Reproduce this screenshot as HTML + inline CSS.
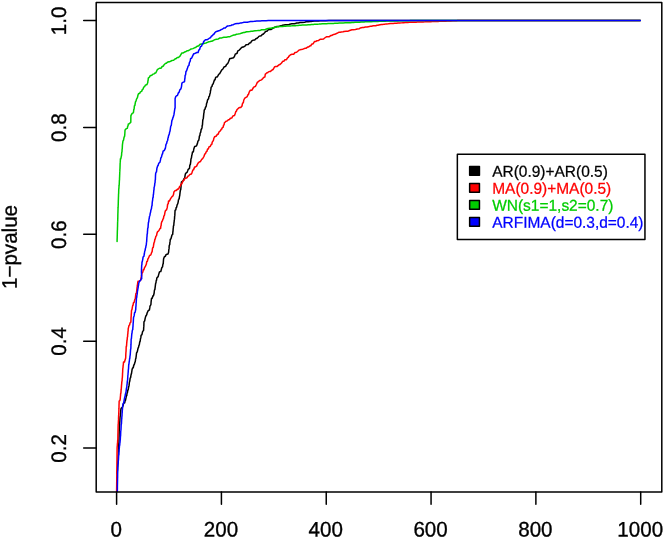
<!DOCTYPE html>
<html><head><meta charset="utf-8"><title>plot</title>
<style>
html,body{margin:0;padding:0;background:#fff;}
body{width:664px;height:538px;overflow:hidden;}
svg{display:block;will-change:transform;font-family:"Liberation Sans",sans-serif;}
</style></head><body>
<svg width="664" height="538" viewBox="0 0 664 538">
<rect x="0" y="0" width="664" height="538" fill="#ffffff"/>
<defs><clipPath id="c"><rect x="96.2" y="2.4" width="565.6" height="489.5"/></clipPath></defs>
<g fill="none" stroke-width="1.50" stroke-linejoin="round" stroke-linecap="round" clip-path="url(#c)">
<polyline stroke="#000000" points="117.20,473.70 117.30,471.17 117.40,470.58 117.54,469.27 117.60,467.47 117.70,466.60 117.80,464.35 117.88,464.23 118.00,461.23 118.14,460.25 118.20,458.12 118.29,455.49 118.40,455.00 118.47,454.49 118.52,452.00 118.60,450.66 118.64,449.00 118.68,449.00 118.76,446.00 118.84,443.09 118.88,443.00 118.96,442.16 119.00,440.00 119.03,439.49 119.07,436.87 119.09,436.87 119.13,433.73 119.16,433.56 119.20,430.60 119.25,430.60 119.38,427.88 119.49,425.44 119.55,425.15 119.60,425.15 119.73,422.43 119.85,421.41 119.90,419.70 120.12,416.47 120.20,416.47 120.36,416.14 120.50,413.23 120.62,412.94 120.80,410.00 121.11,408.36 122.00,407.60 122.37,407.60 123.20,405.20 123.51,403.53 124.40,402.80 124.67,402.79 125.20,400.37 125.48,400.32 126.00,397.93 126.35,396.06 126.80,395.50 127.01,393.22 127.40,392.70 127.84,389.90 128.00,389.90 128.16,389.90 128.60,387.10 129.01,385.69 129.20,384.08 129.39,382.26 129.80,381.05 130.18,378.02 130.40,378.02 130.67,377.37 131.00,375.00 131.43,373.82 131.80,371.50 132.15,369.15 132.60,368.00 133.25,367.75 133.80,365.00 134.21,364.86 135.00,362.00 135.23,362.00 135.63,358.77 135.84,358.77 136.27,355.53 136.55,352.87 136.90,352.30 137.27,351.75 137.70,349.87 138.10,347.97 138.50,347.43 138.98,345.17 139.30,345.00 139.72,341.83 139.90,341.80 140.10,341.48 140.50,338.60 140.79,337.94 141.10,335.40 141.95,334.70 142.30,332.95 142.64,331.44 143.50,330.50 143.56,330.50 143.70,327.50 143.80,326.64 143.90,324.50 143.96,322.06 144.10,321.50 144.68,320.93 145.10,318.67 145.81,315.83 146.10,315.83 146.70,314.72 147.10,313.00 148.24,310.64 149.10,310.00 149.38,310.00 149.80,307.70 150.00,306.07 150.50,305.40 150.92,304.46 151.10,301.80 151.52,298.44 151.70,298.20 152.28,298.14 152.90,295.75 153.45,295.75 154.10,293.30 154.42,290.24 154.70,289.70 154.85,289.58 155.30,286.10 155.64,283.27 155.90,283.27 156.27,280.43 156.50,280.43 156.86,277.80 157.10,277.60 158.14,276.66 158.65,274.60 159.44,271.94 160.20,271.60 160.79,271.59 161.40,269.20 161.77,267.80 162.60,266.80 162.70,265.39 163.00,263.97 163.22,263.60 163.40,261.13 163.57,258.95 163.80,258.30 164.39,256.76 165.40,256.30 165.96,254.72 167.00,254.30 168.00,253.97 168.60,252.30 168.80,249.73 169.05,248.65 169.19,245.85 169.50,245.00 169.77,244.45 169.90,242.10 170.06,241.65 170.30,239.20 170.88,239.11 171.50,236.80 172.03,234.78 172.70,234.40 172.88,231.64 173.00,231.35 173.20,228.30 173.30,228.30 173.39,226.50 173.63,225.50 173.77,225.47 173.97,222.70 174.12,222.01 174.30,219.90 174.50,219.15 174.60,216.67 174.79,215.65 174.90,213.43 175.07,210.20 175.20,210.20 175.79,209.79 176.20,207.40 176.58,207.40 177.20,204.60 177.72,203.86 178.20,201.80 178.43,199.97 178.80,199.35 179.23,198.36 179.40,196.90 179.74,195.51 179.93,193.60 180.32,190.45 180.47,190.30 180.72,189.76 181.00,187.00 181.11,184.82 181.20,184.50 181.32,183.64 181.40,182.00 183.24,180.58 184.10,178.60 184.73,178.04 185.00,175.90 185.47,173.75 185.90,173.20 187.00,172.45 187.70,170.75 188.22,169.29 189.50,168.30 189.80,165.40 190.15,164.70 190.32,164.70 190.80,161.10 190.96,159.05 191.40,158.05 191.82,155.14 192.00,155.00 192.46,152.02 192.90,152.00 193.35,151.79 193.80,149.00 194.65,146.52 195.60,146.30 196.56,145.83 197.40,143.60 198.00,140.95 198.30,140.85 198.70,140.44 199.20,138.10 199.36,136.33 199.70,135.55 199.88,135.55 200.20,133.00 200.61,132.59 200.95,130.85 201.15,129.48 201.70,128.70 202.05,127.42 202.17,125.47 202.44,125.09 202.63,122.23 202.86,119.78 203.10,119.00 203.33,118.42 203.57,115.87 203.89,112.73 204.03,112.73 204.18,110.57 204.50,109.60 205.14,108.97 205.40,107.50 206.06,106.49 206.30,105.40 206.59,103.42 207.10,102.40 207.44,100.42 207.90,99.40 208.52,98.96 208.90,96.65 209.46,96.23 209.90,93.90 210.31,92.66 210.50,90.60 210.77,90.29 211.10,87.30 211.95,86.51 212.35,84.85 213.19,83.86 213.60,82.40 214.50,79.70 215.05,79.70 215.64,77.34 216.50,77.00 217.30,77.00 218.80,74.10 219.53,73.88 221.10,71.20 221.63,70.05 222.90,69.00 224.10,66.80 224.70,66.80 225.78,66.18 226.50,64.60 227.77,63.49 228.65,61.55 229.80,58.50 230.80,58.50 233.44,57.85 234.40,56.50 235.36,53.93 236.10,53.70 237.11,53.27 237.80,50.90 239.03,50.35 240.30,48.95 241.61,47.45 242.80,47.00 243.64,46.89 245.25,45.80 246.06,44.83 247.70,44.60 248.24,44.51 249.50,43.10 250.56,42.86 251.30,41.60 252.29,40.49 253.70,40.10 254.73,40.03 256.10,38.60 256.63,38.60 258.15,37.25 258.85,36.37 260.20,35.90 261.20,35.81 262.50,34.20 263.18,34.20 264.80,32.50 265.52,31.51 267.25,31.00 268.10,29.82 269.70,29.50 270.84,29.50 272.70,28.30 274.62,27.25 275.70,27.10 276.88,26.54 278.53,26.43 280.33,25.84 281.37,25.77 282.34,25.34 284.20,25.10 285.04,24.75 287.00,24.67 288.96,24.48 289.80,24.23 291.82,23.80 292.60,23.80 294.24,23.71 295.43,23.40 296.69,23.07 298.27,23.00 299.97,22.60 301.10,22.60 302.04,22.60 304.70,22.15 306.06,21.82 308.30,21.70 310.22,21.45 311.35,21.40 312.51,21.14 314.40,21.10 315.87,20.97 317.20,20.97 318.70,20.95 320.00,20.83 321.83,20.79 322.80,20.70 324.58,20.69 325.85,20.65 328.90,20.60 331.09,20.55 331.95,20.55 332.97,20.52 335.00,20.50 640.30,20.50"/>
<polyline stroke="#ff0000" points="116.60,492.50 116.63,489.64 116.67,486.79 116.70,483.93 116.73,481.08 116.77,478.22 116.80,475.37 116.83,472.51 116.87,469.66 116.90,466.80 116.93,463.73 116.97,460.67 117.00,457.60 117.03,454.53 117.07,451.47 117.10,448.40 117.21,446.36 117.33,445.60 117.39,443.92 117.57,442.80 117.70,440.06 117.80,440.00 117.84,439.50 117.88,436.75 117.90,434.69 117.95,433.50 117.98,432.84 118.02,430.25 118.07,429.26 118.10,427.00 118.20,423.98 118.25,423.98 118.29,423.98 118.40,420.95 118.49,419.88 118.55,417.92 118.66,414.97 118.70,414.90 118.75,414.62 118.80,412.12 118.87,411.57 118.90,409.34 118.97,408.39 119.00,406.56 119.03,404.64 119.10,403.78 119.15,401.42 119.20,401.00 119.77,400.86 120.20,399.20 120.42,396.18 120.50,396.18 120.63,393.65 120.80,393.15 120.89,393.13 121.10,390.12 121.23,389.44 121.40,387.10 121.58,384.46 121.68,384.08 121.75,382.64 121.95,381.05 122.05,381.05 122.22,378.02 122.32,378.02 122.50,375.00 122.53,373.58 122.60,372.70 122.66,372.25 122.70,370.40 122.83,368.39 123.00,367.60 123.15,365.47 123.30,364.80 123.52,362.00 123.60,362.00 124.46,361.99 125.60,358.30 125.66,358.30 125.77,355.30 125.90,352.42 125.95,352.30 126.06,351.18 126.12,349.30 126.18,346.88 126.30,346.30 126.52,346.22 126.73,343.07 127.03,339.83 127.17,339.83 127.32,337.53 127.60,336.60 127.71,334.06 127.87,333.77 127.95,331.74 128.13,330.93 128.21,328.79 128.40,328.10 129.01,325.34 129.60,325.10 130.03,322.96 130.80,322.10 130.85,322.10 131.00,319.08 131.06,317.13 131.20,316.05 131.27,313.90 131.40,313.02 131.46,310.88 131.60,310.00 131.92,310.00 132.30,307.70 132.75,305.40 133.00,305.40 133.51,302.59 133.90,302.40 134.13,302.40 134.80,299.40 135.29,298.86 135.55,296.35 135.94,293.44 136.30,293.30 136.57,292.37 136.75,290.30 137.07,287.30 137.20,287.30 137.32,285.24 137.60,284.30 137.71,282.55 138.00,281.30 139.66,281.06 140.80,280.00 141.07,277.60 141.25,277.60 141.53,275.35 141.70,275.20 141.90,273.44 142.45,272.50 142.82,272.25 143.20,269.80 143.85,269.80 144.75,267.05 145.21,266.79 146.30,264.30 146.75,261.65 147.35,261.30 147.97,258.72 148.40,258.30 149.57,255.43 150.05,255.30 150.85,254.87 151.70,252.30 152.11,251.83 152.33,249.87 152.56,248.11 152.97,247.43 153.26,247.43 153.60,245.00 154.02,242.59 154.40,242.10 154.89,239.20 155.20,239.20 155.83,236.35 156.10,236.20 156.54,235.56 157.00,233.20 157.49,231.83 158.80,230.75 160.09,228.30 160.60,228.30 160.84,226.07 160.95,225.90 161.08,225.90 161.30,223.50 161.88,221.39 162.35,221.10 162.94,219.03 163.40,218.70 163.88,215.80 164.15,215.65 164.49,215.04 164.90,212.60 165.32,211.02 166.10,209.90 166.56,209.90 167.30,207.20 167.65,204.15 167.90,204.15 168.32,203.39 168.50,201.10 169.35,201.10 170.60,198.70 172.03,196.56 172.70,196.30 173.49,194.59 173.90,192.10 175.21,190.60 176.05,190.60 177.64,189.10 178.20,189.10 178.57,189.10 179.60,186.55 180.30,186.13 181.00,184.00 181.77,183.86 182.50,182.10 183.25,180.50 184.00,180.20 185.05,178.20 185.85,178.20 187.14,177.64 187.70,176.20 188.54,176.12 189.85,174.40 191.31,174.06 192.00,172.60 192.89,169.97 193.50,169.85 194.60,167.10 195.00,167.10 196.61,166.11 197.40,164.40 198.28,162.80 199.80,161.70 200.38,161.70 201.90,159.00 202.46,159.00 204.00,156.30 204.78,154.03 205.43,153.87 206.12,151.90 206.87,151.43 207.61,149.09 208.30,149.00 209.10,146.77 210.10,146.60 211.44,144.23 211.90,144.20 212.21,142.13 212.90,141.20 213.48,140.22 213.90,138.20 214.57,136.74 216.05,136.20 217.48,134.27 218.20,134.20 219.08,131.82 220.20,131.00 221.24,129.26 221.70,129.10 222.33,127.57 223.20,127.20 223.48,125.39 224.10,124.75 224.44,122.61 225.00,122.30 225.69,121.51 227.23,120.90 228.40,119.73 229.47,119.50 230.37,118.27 231.70,118.10 232.97,115.87 233.50,115.70 234.51,115.51 235.30,113.30 235.97,111.15 236.50,111.15 236.89,109.82 237.70,109.00 238.94,107.81 239.85,107.50 240.74,107.50 242.00,106.00 242.46,103.71 242.90,103.00 243.34,102.73 243.80,100.00 244.81,98.13 246.80,96.90 247.14,96.83 248.00,94.50 248.46,94.50 249.20,92.10 250.20,90.36 251.03,90.30 251.78,90.30 252.87,88.50 253.68,87.13 254.70,86.70 255.40,86.42 256.50,84.25 257.42,82.13 258.30,81.80 259.58,80.38 260.50,80.20 261.39,79.91 262.70,78.60 263.99,77.16 264.90,77.00 265.27,74.26 265.40,74.20 266.89,72.80 267.63,72.80 268.39,71.87 269.87,71.40 270.48,71.40 272.10,70.00 273.03,69.52 273.90,68.20 274.46,67.00 275.70,66.40 277.15,66.40 279.30,64.60 280.02,64.59 281.53,62.97 282.68,61.34 283.77,61.33 284.92,59.78 286.00,59.70 286.47,59.70 287.50,57.90 288.29,57.45 289.00,56.10 290.55,54.75 292.00,54.30 293.68,54.18 295.00,52.50 296.63,52.20 298.05,51.00 298.85,50.14 301.10,49.50 302.71,49.23 303.50,48.90 305.20,48.30 305.90,48.30 307.54,47.05 308.35,47.05 310.00,45.80 310.80,45.80 311.57,44.21 313.20,43.70 314.43,41.60 315.60,41.60 316.68,40.83 318.60,40.40 320.12,39.36 321.60,39.20 323.55,38.99 324.65,38.00 326.40,36.82 327.70,36.80 328.97,36.80 330.70,35.60 331.62,35.49 333.70,34.40 334.76,34.32 336.95,33.30 339.11,32.20 340.20,32.20 341.25,31.94 343.10,31.75 344.03,31.44 346.00,31.30 348.19,31.18 349.65,30.55 351.93,29.83 353.30,29.80 355.20,29.59 356.30,29.25 357.08,28.94 359.30,28.70 360.22,27.97 362.40,27.50 363.68,27.48 365.40,27.10 366.96,27.01 368.40,26.70 370.46,26.33 371.40,26.30 373.30,25.80 374.23,25.77 375.71,25.74 377.07,25.23 377.90,25.23 379.90,24.70 381.64,24.40 382.70,24.40 384.49,24.13 385.50,24.10 386.72,23.90 388.30,23.80 390.66,23.57 391.53,23.57 393.12,23.56 394.77,23.33 396.58,23.30 398.00,23.10 399.61,23.07 401.23,22.87 403.13,22.65 404.47,22.63 405.91,22.41 407.70,22.40 409.80,22.37 410.82,22.30 411.87,22.23 413.95,22.20 416.27,22.15 417.07,22.10 418.50,22.08 420.20,22.00 421.04,21.92 423.15,21.90 424.90,21.87 426.10,21.80 427.42,21.78 429.05,21.70 431.03,21.67 432.00,21.60 432.97,21.60 435.02,21.50 436.73,21.46 438.05,21.40 439.52,21.31 441.08,21.30 442.04,21.30 444.10,21.20 445.64,21.17 447.30,21.07 449.66,20.93 450.50,20.93 452.85,20.80 453.70,20.80 455.21,20.72 456.47,20.70 457.70,20.61 459.23,20.60 460.68,20.58 462.00,20.50 640.30,20.50"/>
<polyline stroke="#00cd00" points="117.05,241.50 117.08,241.50 117.14,238.62 117.19,238.08 117.22,235.75 117.26,235.75 117.31,232.88 117.34,231.25 117.40,230.00 117.43,230.00 117.49,227.21 117.54,226.64 117.57,224.43 117.63,221.64 117.66,221.64 117.71,221.13 117.74,218.86 117.78,218.77 117.83,216.07 117.88,213.29 117.91,213.29 117.97,210.50 118.00,210.50 118.04,208.19 118.10,207.71 118.15,207.17 118.20,204.93 118.26,204.02 118.30,202.14 118.33,200.43 118.40,199.36 118.45,197.13 118.50,196.57 118.53,194.68 118.60,193.79 118.65,193.45 118.70,191.00 118.76,189.04 118.90,188.25 119.05,185.70 119.10,185.50 119.19,184.96 119.30,182.75 119.40,180.30 119.50,180.00 119.53,177.92 119.60,177.22 119.64,175.46 119.70,174.45 119.77,171.68 119.80,171.68 119.86,171.23 119.90,168.90 119.96,168.90 120.07,165.53 120.16,162.43 120.23,162.17 120.32,161.34 120.40,158.80 120.80,158.80 121.60,155.00 121.68,152.93 121.85,152.15 121.98,152.05 122.10,149.30 122.27,148.43 122.35,146.45 122.43,144.88 122.60,143.60 122.98,140.94 123.55,140.15 124.12,136.85 124.50,136.70 124.74,135.04 124.85,133.20 125.00,130.45 125.20,129.70 126.18,128.68 127.10,128.40 127.31,128.31 127.70,126.20 128.06,125.79 128.30,124.00 129.25,123.82 130.80,122.20 130.83,119.03 130.85,118.95 130.90,115.70 132.16,113.36 133.20,112.80 133.46,112.35 133.80,109.35 134.09,109.17 134.40,105.90 134.84,105.53 135.20,103.50 135.52,101.71 136.00,101.10 136.42,99.31 136.80,98.70 137.42,97.70 138.00,95.00 138.50,93.70 139.80,93.20 140.45,91.87 141.60,91.40 142.19,89.88 143.10,89.00 143.75,87.07 144.60,86.60 145.41,85.24 146.10,84.80 146.88,84.75 147.60,83.00 147.70,83.00 147.95,80.55 148.13,80.42 148.30,78.10 149.56,76.97 150.10,75.70 151.82,75.16 152.50,74.40 154.06,73.83 154.90,73.10 155.79,73.06 157.30,69.70 159.43,68.25 160.30,68.20 161.13,68.20 162.15,66.50 163.44,65.96 164.00,64.80 165.73,63.30 166.40,63.30 167.36,62.28 168.80,61.80 169.85,61.65 171.20,61.00 171.82,60.43 173.60,60.20 175.20,58.84 175.73,58.83 177.31,57.47 177.87,57.47 178.44,57.47 180.00,56.10 181.87,52.90 182.50,52.90 183.28,52.90 184.90,51.80 185.50,51.80 187.30,50.70 188.39,50.70 190.10,49.67 191.15,48.94 192.90,48.63 194.99,47.60 195.70,47.60 196.70,46.55 198.75,45.80 200.09,44.20 201.80,44.00 202.54,44.00 204.60,43.20 206.00,42.98 207.40,42.40 208.92,41.79 210.20,41.60 212.47,41.07 213.43,40.40 215.45,39.40 216.67,39.20 218.33,38.93 219.90,38.00 221.47,37.94 222.70,37.60 224.00,37.31 225.50,37.20 226.23,37.20 228.30,36.80 229.97,36.67 231.53,35.90 233.78,35.00 234.77,35.00 236.56,34.26 238.00,34.10 239.63,33.88 241.23,33.30 243.52,32.50 244.47,32.50 246.62,31.70 247.70,31.70 249.80,31.55 251.30,31.20 252.44,31.20 254.90,30.70 255.64,30.70 257.55,30.55 258.89,30.40 260.20,30.40 261.60,29.78 263.37,29.70 264.97,29.68 266.53,29.00 268.03,28.46 269.70,28.30 271.34,28.20 272.50,27.77 273.73,27.76 275.30,27.23 277.30,26.70 278.10,26.70 280.04,26.51 281.12,26.50 282.61,26.45 284.15,26.30 285.23,26.30 287.18,26.10 289.43,26.02 290.20,25.90 291.81,25.85 293.23,25.70 295.45,25.64 296.25,25.50 298.00,25.46 299.27,25.30 300.98,25.14 302.30,25.10 303.08,25.09 305.32,24.90 306.43,24.90 308.35,24.70 310.18,24.67 311.38,24.50 313.42,24.41 314.40,24.30 315.68,24.29 317.42,24.15 318.97,24.11 320.45,24.00 322.38,23.86 323.48,23.85 324.60,23.73 326.50,23.70 328.16,23.58 329.24,23.58 330.31,23.56 331.98,23.46 333.56,23.42 334.72,23.34 335.57,23.27 337.46,23.22 339.51,23.10 340.20,23.10 341.68,23.06 343.18,22.95 345.25,22.81 346.15,22.80 347.60,22.68 349.12,22.65 350.41,22.65 352.10,22.50 353.60,22.49 355.12,22.35 357.18,22.20 358.15,22.20 359.54,22.19 361.18,22.05 362.89,22.01 364.20,21.90 365.18,21.83 367.23,21.77 368.53,21.67 370.25,21.65 371.17,21.65 373.27,21.52 374.98,21.51 376.30,21.40 377.95,21.38 379.30,21.32 380.88,21.31 382.30,21.25 383.61,21.24 385.30,21.18 386.64,21.12 388.30,21.10 389.18,21.10 391.32,21.03 393.34,21.01 394.35,20.95 395.77,20.88 397.38,20.88 399.48,20.85 400.40,20.80 401.44,20.80 403.42,20.75 406.45,20.70 407.27,20.66 409.48,20.65 410.30,20.62 412.50,20.60 415.42,20.58 418.33,20.57 421.25,20.55 424.17,20.53 427.08,20.52 430.00,20.50 640.30,20.50"/>
<polyline stroke="#0000ff" points="117.30,492.50 117.32,492.44 117.36,489.64 117.38,489.64 117.41,486.79 117.43,484.73 117.47,483.93 117.51,481.16 117.52,481.08 117.56,478.22 117.58,478.22 117.60,477.70 117.63,475.37 117.67,472.99 117.69,472.51 117.72,471.95 117.74,469.66 117.76,468.16 117.80,466.80 117.98,463.73 118.05,463.73 118.23,462.95 118.30,460.67 118.45,459.99 118.55,457.60 118.69,455.08 118.80,454.53 118.87,452.54 119.05,451.47 119.14,449.22 119.30,448.40 119.45,446.04 119.60,445.60 119.69,445.55 119.90,442.80 119.99,442.80 120.20,440.00 120.27,440.00 120.42,436.75 120.59,435.53 120.65,433.50 120.76,430.85 120.88,430.25 120.98,429.66 121.10,427.00 121.20,424.53 121.32,424.27 121.49,423.32 121.55,421.55 121.66,419.19 121.78,418.83 121.83,416.80 122.00,416.10 122.09,413.27 122.20,412.87 122.29,410.56 122.40,409.63 122.48,409.02 122.60,406.40 123.02,403.97 123.40,403.20 123.64,403.18 124.20,400.00 124.79,396.80 125.00,396.80 125.39,393.93 125.60,393.57 126.04,391.86 126.20,390.33 126.43,388.30 126.80,387.10 126.91,385.16 127.10,384.08 127.29,381.53 127.40,381.05 127.61,379.97 127.70,378.02 127.90,375.00 128.00,375.00 128.07,373.05 128.20,372.35 128.33,369.74 128.40,369.70 128.55,368.50 128.60,367.05 128.74,364.40 128.80,364.40 128.92,364.24 129.20,361.57 129.31,361.53 129.60,358.73 129.80,358.36 130.00,355.90 130.18,355.31 130.40,352.30 130.57,349.56 130.80,348.70 130.86,347.96 130.93,345.47 131.02,344.15 131.07,342.23 131.16,339.00 131.20,339.00 131.43,338.47 131.62,335.98 131.83,333.61 132.05,332.95 132.17,331.42 132.47,329.92 132.73,329.58 132.90,326.90 132.97,326.90 133.13,323.70 133.29,322.28 133.37,320.50 133.52,317.75 133.60,317.30 134.09,315.98 134.27,314.87 134.58,312.70 134.93,312.43 135.11,312.43 135.60,310.00 135.69,309.97 135.83,306.87 135.98,306.33 136.07,303.73 136.23,302.54 136.30,300.60 136.50,297.72 136.73,297.37 136.91,295.24 137.17,294.13 137.48,290.90 137.60,290.90 137.84,288.89 138.07,288.10 138.33,285.65 138.53,285.30 138.74,283.29 139.00,282.50 139.85,280.65 140.35,280.65 141.22,278.80 141.70,278.80 141.65,276.19 141.60,276.00 141.53,275.19 141.50,273.20 141.47,272.99 141.40,270.40 141.46,270.15 141.60,267.57 141.72,264.73 141.80,264.73 141.89,264.73 142.00,261.90 142.23,261.90 142.80,259.10 143.07,257.20 143.60,256.30 143.88,256.30 144.40,253.50 144.71,251.27 145.03,250.67 145.36,248.59 145.67,247.83 146.02,245.58 146.30,245.00 146.46,242.27 146.53,242.27 146.63,241.84 146.77,239.53 146.89,237.19 147.00,236.80 147.13,234.06 147.23,233.97 147.38,233.46 147.47,231.13 147.53,231.13 147.70,228.30 148.04,227.61 148.20,225.10 148.40,222.60 148.70,221.90 149.03,218.97 149.20,218.70 149.46,216.52 149.90,215.47 150.26,213.06 150.60,212.23 150.79,210.55 151.30,209.00 151.45,208.67 151.73,206.17 152.03,205.61 152.17,203.33 152.34,201.56 152.60,200.50 152.82,197.80 152.95,197.80 153.14,197.42 153.30,195.10 153.48,194.28 153.65,192.40 153.83,190.29 154.00,189.70 154.12,187.28 154.40,186.47 154.63,185.37 154.80,183.23 155.05,182.71 155.20,180.00 155.36,179.69 155.50,175.60 155.71,173.16 156.20,171.95 156.49,171.89 156.90,168.30 157.73,165.69 158.10,165.50 158.70,163.39 159.30,162.70 159.89,162.41 160.50,159.90 160.78,158.19 161.53,156.87 162.18,154.18 162.57,153.83 163.10,151.18 163.60,150.80 164.37,150.50 164.80,149.00 165.23,148.89 165.73,146.17 166.00,144.39 166.67,143.33 166.99,141.66 167.60,140.50 168.08,137.70 168.27,137.70 168.51,135.92 168.93,134.90 169.33,134.00 169.60,132.10 169.98,131.29 170.35,128.80 170.62,126.85 171.10,125.50 171.28,125.50 171.60,122.75 171.89,120.58 172.10,120.00 172.39,119.73 172.85,117.80 173.40,116.66 173.60,115.60 173.89,114.92 174.35,111.95 174.86,108.30 175.10,108.30 175.10,105.10 175.10,101.90 175.10,98.70 175.76,96.50 176.80,95.65 177.43,95.58 178.50,92.60 178.99,92.60 180.00,89.60 180.86,88.94 181.50,86.60 181.92,83.00 182.10,83.00 183.29,82.15 184.50,81.80 184.83,78.40 184.95,78.40 185.13,75.47 185.40,75.00 185.57,75.00 186.00,71.20 186.41,71.20 187.45,68.35 188.13,66.02 188.90,65.50 189.41,62.68 189.75,62.00 190.21,61.13 190.60,58.50 191.58,58.32 192.55,56.10 193.76,53.70 194.50,53.70 196.85,52.50 198.10,52.50 198.82,50.08 199.60,49.45 200.40,46.86 201.10,46.40 201.64,45.93 202.35,44.00 203.28,43.05 203.60,41.60 205.44,39.80 206.60,39.80 207.70,39.53 209.60,38.00 210.42,37.86 211.40,36.17 212.63,35.49 213.20,34.33 213.84,34.33 215.00,32.50 215.82,31.77 218.05,31.00 220.29,30.25 221.10,29.50 221.89,29.50 223.80,28.10 225.23,28.01 226.50,26.70 227.60,26.00 229.13,25.83 230.89,25.59 231.77,24.97 233.06,24.72 234.40,24.10 235.23,23.82 237.20,23.60 238.74,23.44 240.00,23.10 241.15,23.08 242.80,22.60 243.92,22.29 246.03,22.20 247.36,22.15 249.27,21.80 250.52,21.52 252.50,21.40 254.27,21.34 255.07,21.23 256.71,21.08 257.63,21.07 259.54,20.98 260.20,20.90 261.95,20.81 263.18,20.80 264.19,20.74 266.15,20.70 268.27,20.60 269.12,20.60 270.68,20.57 272.10,20.50 640.30,20.50"/>
</g>
<g fill="none" stroke="#000" stroke-width="1.50" stroke-linecap="round" stroke-linejoin="round">
<rect x="96.2" y="2.4" width="565.6" height="489.5"/>
<line x1="116.60" y1="491.9" x2="116.60" y2="504.3"/>
<line x1="221.42" y1="491.9" x2="221.42" y2="504.3"/>
<line x1="326.24" y1="491.9" x2="326.24" y2="504.3"/>
<line x1="431.06" y1="491.9" x2="431.06" y2="504.3"/>
<line x1="535.88" y1="491.9" x2="535.88" y2="504.3"/>
<line x1="640.70" y1="491.9" x2="640.70" y2="504.3"/>
<line x1="96.2" y1="448.05" x2="83.7" y2="448.05"/>
<line x1="96.2" y1="341.18" x2="83.7" y2="341.18"/>
<line x1="96.2" y1="234.30" x2="83.7" y2="234.30"/>
<line x1="96.2" y1="127.43" x2="83.7" y2="127.43"/>
<line x1="96.2" y1="20.55" x2="83.7" y2="20.55"/>
</g>
<g fill="#000" stroke="#000" stroke-width="0.35" font-size="21.0px" text-anchor="middle">
<text transform="translate(116.10,536.4) rotate(0.03) scale(0.980,1)">0</text>
<text transform="translate(220.92,536.4) rotate(0.03) scale(0.980,1)">200</text>
<text transform="translate(325.74,536.4) rotate(0.03) scale(0.980,1)">400</text>
<text transform="translate(430.56,536.4) rotate(0.03) scale(0.980,1)">600</text>
<text transform="translate(535.38,536.4) rotate(0.03) scale(0.980,1)">800</text>
<text transform="translate(640.20,536.4) rotate(0.03) scale(0.980,1)">1000</text>
<text transform="translate(66.0,448.35) rotate(-89.97) scale(0.980,1)">0.2</text>
<text transform="translate(66.0,341.48) rotate(-89.97) scale(0.980,1)">0.4</text>
<text transform="translate(66.0,234.60) rotate(-89.97) scale(0.980,1)">0.6</text>
<text transform="translate(66.0,127.73) rotate(-89.97) scale(0.980,1)">0.8</text>
<text transform="translate(66.0,20.85) rotate(-89.97) scale(0.980,1)">1.0</text>
<text transform="translate(16.7,247) rotate(-89.97) scale(0.980,1)">1−pvalue</text>
</g>
<rect x="457.35" y="154.25" width="187.6" height="85.15" fill="#fff" stroke="#000" stroke-width="1.50" stroke-linejoin="round"/>
<rect x="469.65" y="166.60" width="9.8" height="8.6" fill="#000000" stroke="#000" stroke-width="1.50" stroke-linejoin="round"/>
<text transform="translate(492.2,176.70) rotate(0.03) scale(0.980,1)" font-size="15.8px" fill="#000000" stroke="#000000" stroke-width="0.25">AR(0.9)+AR(0.5)</text>
<rect x="469.65" y="183.60" width="9.8" height="8.6" fill="#ff0000" stroke="#000" stroke-width="1.50" stroke-linejoin="round"/>
<text transform="translate(492.2,193.70) rotate(0.03) scale(0.980,1)" font-size="15.8px" fill="#ff0000" stroke="#ff0000" stroke-width="0.25">MA(0.9)+MA(0.5)</text>
<rect x="469.65" y="200.60" width="9.8" height="8.6" fill="#00cd00" stroke="#000" stroke-width="1.50" stroke-linejoin="round"/>
<text transform="translate(492.2,210.70) rotate(0.03) scale(0.980,1)" font-size="15.8px" fill="#00cd00" stroke="#00cd00" stroke-width="0.25">WN(s1=1,s2=0.7)</text>
<rect x="469.65" y="217.60" width="9.8" height="8.6" fill="#0000ff" stroke="#000" stroke-width="1.50" stroke-linejoin="round"/>
<text transform="translate(492.2,227.70) rotate(0.03) scale(0.980,1)" font-size="15.8px" fill="#0000ff" stroke="#0000ff" stroke-width="0.25">ARFIMA(d=0.3,d=0.4)</text>
</svg>
</body></html>
